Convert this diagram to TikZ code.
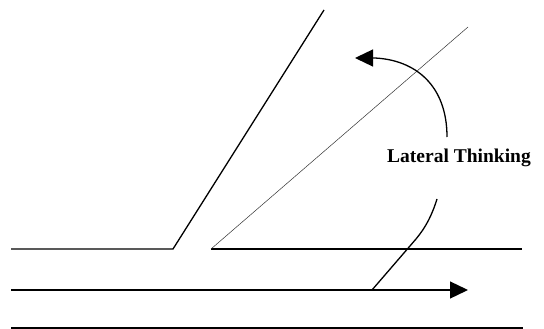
\documentclass[tikz,border=0pt]{standalone}
\usepackage{fontspec}
\setmainfont{Liberation Serif}
\usetikzlibrary{arrows.meta}
\begin{document}
\begin{tikzpicture}[x=1pt,y=-1pt,
  thick line/.style={line width=1.3pt,black},
  thin line/.style={line width=0.5pt,black!80},
  bigtip/.style={-{Triangle[length=18pt,width=17pt]}},
  label text/.style={font=\bfseries\fontsize{19.5}{22}\selectfont,inner sep=0pt}]
\useasboundingbox (0,0) rectangle (544,329);
% coordinates
\coordinate (l0) at (11,249);
\coordinate (corner) at (173,249);
\coordinate (top) at (324,10);
\coordinate (r0) at (211,249);
\coordinate (r1) at (522,249);
\coordinate (thintop) at (468,27);
\coordinate (m0) at (11,290);
\coordinate (m1) at (468,290);
\coordinate (b0) at (11,328);
\coordinate (b1) at (523,328);
\coordinate (c0) at (372,290);
\coordinate (c1) at (437,199);
\coordinate (u0) at (447,137);
\coordinate (u1) at (355,58);
% lines
\draw[thick line] (l0) -- (corner) -- (top);
\draw[thick line] (r0) -- (r1);
\draw[thin line] (r0) -- (thintop);
\draw[thick line,bigtip] (m0) -- (m1);
\draw[thick line] (b0) -- (b1);
% lateral thinking curve
\draw[line width=1.3pt] (c0) -- (416,239) .. controls (426,227) and (432,215) .. (c1);
\draw[line width=1.3pt,bigtip] (u0) .. controls (447,85) and (415,60) .. (375,58) -- (u1);
\node[label text,anchor=base west] (lt) at (387,162) {Lateral Thinking};
\end{tikzpicture}
\end{document}
